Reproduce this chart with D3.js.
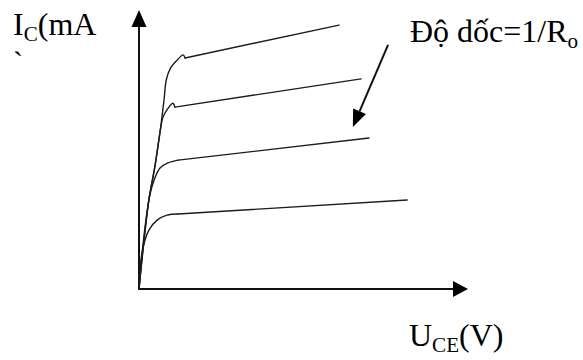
<!DOCTYPE html>
<html>
<head>
<meta charset="utf-8">
<script src="https://cdn.jsdelivr.net/npm/d3@7"></script>
<style>
  html, body { margin: 0; padding: 0; background: #fff; }
  svg { display: block; }
  text { font-family: "Liberation Serif", "DejaVu Serif", serif; fill: #000; }
</style>
</head>
<body>
<svg id="chart" width="583" height="360"></svg>
<script>
// Axis extents (V, mA) — schematic output characteristics
const uDomain = [0, 10];
const iDomain = [0, 10];

// Curves: [U_CE (V), I_C (mA)] points, bottom to top.
// All points but the last form the rounded knee; the last point ends the straight active-region line.
const curve4 = [[0,0],[0.09,1.29],[0.30,2.11],[0.55,2.47],[0.85,2.65],[1.19,2.69],[8.15,3.19]];
const curve3 = [[0,0],[0.09,1.22],[0.21,2.47],[0.33,3.37],[0.46,3.91],[0.64,4.34],[0.88,4.52],[1.19,4.62],[6.99,5.41]];
const curve2 = [[0,0],[0.12,1.40],[0.30,3.19],[0.49,4.44],[0.64,5.63],[0.73,6.16],[0.85,6.42],[1.03,6.66],[1.09,6.52],[6.75,7.53]];
const curve1 = [[0,0],[0.12,1.40],[0.30,3.19],[0.49,4.44],[0.64,5.63],[0.76,6.77],[0.83,7.50],[0.95,7.90],[1.15,8.19],[1.34,8.39],[1.40,8.28],[6.08,9.46]];
const curves = [curve1, curve2, curve3, curve4];

// Annotation arrow: from -> to (data units)
const slopeArrowFrom = [7.57, 8.75];
const slopeArrowTo = [6.50, 5.81];

// Labels
const yLabel = { main: "I", sub: "C", rest: "(mA" };
const xLabel = { main: "U", sub: "CE", rest: "(V)" };
const slopeLabel = { main: "Độ dốc=1/R", sub: "o" };

const svg = d3.select("#chart");
const x = d3.scaleLinear().domain(uDomain).range([139, 468]);
const y = d3.scaleLinear().domain(iDomain).range([289, 10]);

function arrowHead(tip, from, len, half) {
  const dx = tip[0] - from[0], dy = tip[1] - from[1];
  const L = Math.hypot(dx, dy);
  const ux = dx / L, uy = dy / L;
  const bx = tip[0] - ux * len, by = tip[1] - uy * len;
  const px = -uy, py = ux;
  return [[tip[0], tip[1]], [bx + px * half, by + py * half], [bx - px * half, by - py * half]];
}
const poly = d3.line();

// Axes
const origin = [x(0), y(0)];
const yTip = [x(0), y(10)];
const xTip = [x(10), y(0)];
svg.append("line").attr("x1", origin[0]).attr("y1", origin[1] + 1).attr("x2", yTip[0]).attr("y2", yTip[1] + 10)
  .attr("stroke", "#111").attr("stroke-width", 2);
svg.append("path").attr("d", poly(arrowHead(yTip, origin, 17, 7.5)) + "Z").attr("fill", "#000");
svg.append("line").attr("x1", origin[0] - 1).attr("y1", origin[1]).attr("x2", xTip[0] - 10).attr("y2", xTip[1])
  .attr("stroke", "#111").attr("stroke-width", 2);
svg.append("path").attr("d", poly(arrowHead(xTip, origin, 15, 8)) + "Z").attr("fill", "#000");

// Curves: rounded knee + straight line
const knee = d3.line().x(d => x(d[0])).y(d => y(d[1])).curve(d3.curveCatmullRom.alpha(0.5));
const straight = d3.line().x(d => x(d[0])).y(d => y(d[1]));
const g = svg.append("g").attr("fill", "none").attr("stroke", "#1c1c1c")
  .attr("stroke-width", 1.4).attr("stroke-linejoin", "round").attr("stroke-linecap", "round");
curves.forEach(c => {
  const n = c.length;
  g.append("path").attr("d", knee(c.slice(0, n - 1)));
  g.append("path").attr("d", straight(c.slice(n - 2)));
});

// Slope annotation arrow
const aFrom = [x(slopeArrowFrom[0]), y(slopeArrowFrom[1])];
const aTo = [x(slopeArrowTo[0]), y(slopeArrowTo[1])];
const aHead = arrowHead(aTo, aFrom, 17, 7);
const aBase = [(aHead[1][0] + aHead[2][0]) / 2, (aHead[1][1] + aHead[2][1]) / 2];
svg.append("line").attr("x1", aFrom[0]).attr("y1", aFrom[1]).attr("x2", aBase[0]).attr("y2", aBase[1])
  .attr("stroke", "#111").attr("stroke-width", 2);
svg.append("path").attr("d", poly(aHead) + "Z").attr("fill", "#000");

// Labels
function subLabel(xp, yp, lab, size) {
  const t = svg.append("text").attr("x", xp).attr("y", yp).attr("font-size", size);
  t.append("tspan").text(lab.main);
  t.append("tspan").attr("font-size", size * 0.66).attr("dy", 6).text(lab.sub);
  if (lab.rest) t.append("tspan").attr("dy", -6).text(lab.rest);
  return t;
}
subLabel(13, 35, yLabel, 32);
svg.append("text").attr("x", 13).attr("y", 72).attr("font-size", 30).text("`");
subLabel(409, 346, xLabel, 32);
subLabel(410, 42, slopeLabel, 32);
</script>
</body>
</html>
